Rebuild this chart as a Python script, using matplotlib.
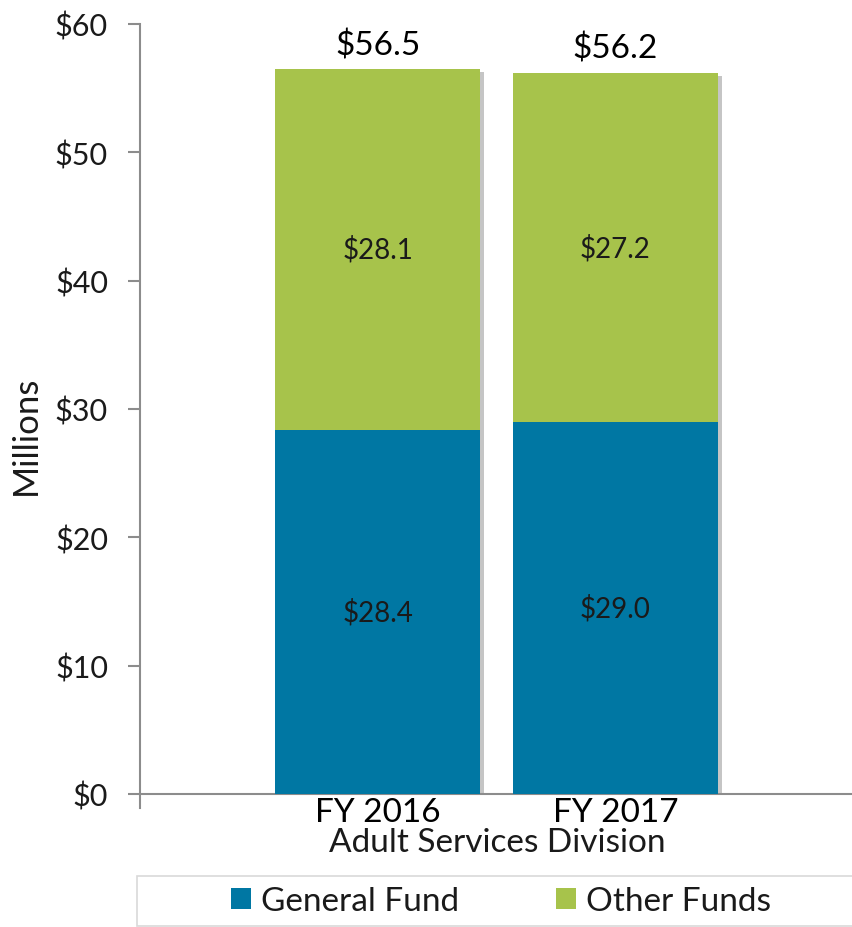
import matplotlib
matplotlib.use("Agg")
import matplotlib.pyplot as plt
import matplotlib.patheffects as pe
from matplotlib.patches import Rectangle
import numpy as np

plt.rcParams['font.family'] = ['Lato', 'DejaVu Sans']

categories = ["FY 2016", "FY 2017"]
general_fund = [28.4, 29.0]
other_funds = [28.1, 27.2]
totals = [56.5, 56.2]
yticks = [0, 10, 20, 30, 40, 50, 60]
ytick_labels = ["$0", "$10", "$20", "$30", "$40", "$50", "$60"]
group_label = "Adult Services Division"
series_names = ["General Fund", "Other Funds"]

blue = "#0077A3"
green = "#A7C34B"
text_c = "#1a1a1a"
axis_c = "#8c8c8c"

fig = plt.figure(figsize=(8.53, 9.28), dpi=100)
ax = fig.add_axes([140/853, 1-795/928, 713/853, 770/928])

x = np.arange(len(categories))
w = 0.861
stack_top = [g + o for g, o in zip(general_fund, other_funds)]
shadow = [pe.SimplePatchShadow(offset=(3, -2), shadow_rgbFace='#7f7f7f', alpha=0.45), pe.Normal()]
back = ax.bar(x, stack_top, width=w, color=green, zorder=2)
for r in back:
    r.set_path_effects(shadow)
b1 = ax.bar(x, general_fund, width=w, color=blue, label=series_names[0], zorder=3)
b2 = ax.bar(x, other_funds, width=w, bottom=general_fund, color=green, label=series_names[1], zorder=3)

for i in range(len(categories)):
    ax.text(x[i], general_fund[i] / 2, f"${general_fund[i]:.1f}", ha='center', va='center',
            fontsize=20, color=text_c, zorder=4)
    ax.text(x[i], general_fund[i] + other_funds[i] / 2, f"${other_funds[i]:.1f}", ha='center', va='center',
            fontsize=20, color=text_c, zorder=4)
    ax.text(x[i], totals[i] + 1.9, f"${totals[i]:.1f}", ha='center', va='center',
            fontsize=24, color='black', zorder=4)

ax.set_xlim(-1, 2)
ax.set_ylim(0, 60)
ax.set_yticks(yticks)
ax.set_yticklabels(ytick_labels, fontsize=22, color=text_c)
ax.set_xticks(x)
ax.set_xticklabels(categories, fontsize=24, color='black')
ax.tick_params(axis='y', direction='out', length=9, width=1.5, color=axis_c, pad=14)
ax.tick_params(axis='x', length=0, pad=2)
for s in ['top', 'right']:
    ax.spines[s].set_visible(False)
ax.spines['left'].set_color(axis_c)
ax.spines['left'].set_linewidth(1.5)
ax.spines['bottom'].set_color(axis_c)
ax.spines['bottom'].set_linewidth(1.5)
ax.spines['left'].set_bounds(-1.1, 60)
ax.set_ylabel("Millions", fontsize=25, color=text_c)
ax.yaxis.set_label_coords((42 - 140) / 713, (795 - 435) / 770)

fig.text(497/853, 1-843/928, group_label, ha='center', va='center', fontsize=24,
         color=text_c)

fig.patches.append(Rectangle((137/853, 1-927/928), 720/853, 50/928, transform=fig.transFigure,
                             facecolor='white', edgecolor='#d9d9d9', linewidth=1.2, zorder=0))
leg = fig.legend(handles=[b1, b2], labels=series_names, loc='center',
                 bbox_to_anchor=(501/853, 1-902/928), ncol=2, frameon=False,
                 fontsize=24, handlelength=0.6, handleheight=0.6, handletextpad=0.3,
                 columnspacing=2.9)
for t in leg.get_texts():
    t.set_color(text_c)

fig.savefig("out.png", dpi=100)
